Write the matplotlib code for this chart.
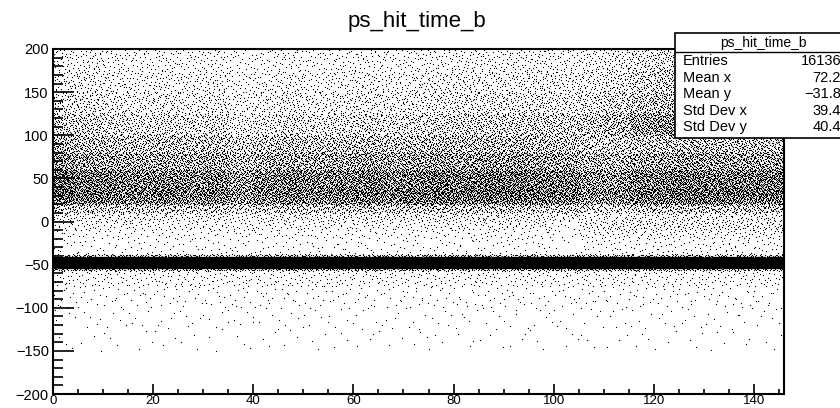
import numpy as np
import matplotlib
matplotlib.use("Agg")
import matplotlib.pyplot as plt
from matplotlib.patches import Rectangle
from matplotlib.ticker import MultipleLocator

plt.rcParams['font.family'] = ['Liberation Sans', 'DejaVu Sans']

# --- data (approximate dot density per pixel) ---
x_edges = [0, 5, 10, 15, 20, 25, 30, 35, 40, 45, 50, 55, 60, 65, 70, 75, 80, 85,
           90, 95, 100, 105, 110, 115, 120, 125, 130, 135, 140, 146]
y_edges = [-200, -150, -125, -100, -75, -57, -54, -41, -38, -20, -10, 0,
           10, 20, 30, 40, 60, 80, 100, 125, 150, 175, 200]
# density of each y band (same order as y_edges)
band_density = [0.0, 0.005, 0.009, 0.018, 0.05, 0.35, 3.5, 0.35, 0.022, 0.038, 0.065,
                0.12, 0.27, 0.58, 0.68, 0.60, 0.42, 0.30, 0.17, 0.11, 0.08, 0.06]
# which factor each band uses: 'n' none, 'l' low region, 'c' core, 'h' high
band_zone = ['n', 'n', 'n', 'n', 'n', 'n', 'n', 'n', 'l', 'l', 'l',
             'c', 'c', 'c', 'c', 'c', 'c', 'c', 'h', 'h', 'h', 'h']
core_scale = [1.0, 0.9, 0.85, 0.8, 0.85, 0.8, 0.85, 0.65, 0.8, 0.85, 0.8, 0.85, 0.9, 0.85,
              0.9, 0.95, 0.9, 0.95, 0.95, 0.9, 0.85, 0.7, 0.7, 0.85, 0.9, 0.95, 0.9, 0.9, 0.9]
high_scale = [1.2, 1.2, 1.0, 0.9, 1.0, 0.9, 1.0, 0.7, 0.8, 1.0, 0.8, 0.9, 1.0, 0.9,
              1.0, 1.1, 1.2, 1.2, 1.2, 1.3, 1.2, 1.4, 1.7, 2.2, 2.6, 2.6, 2.4, 2.4, 2.4]
low_scale = [1.0, 1.0, 1.0, 1.0, 1.0, 1.0, 1.0, 1.0, 1.0, 1.0, 1.0, 1.0, 1.0, 1.0,
             1.0, 1.1, 1.1, 1.2, 1.2, 1.2, 0.5, 1.6, 1.8, 1.8, 1.8, 1.8, 1.8, 1.8, 1.8]

stat_names = ['Entries', 'Mean x', 'Mean y', 'Std Dev x', 'Std Dev y']
stat_values = ['16136', '72.2', '\u221231.8', '39.4', '40.4']


def radical_inverse(i, base):
    f, r = 1.0, 0.0
    while i > 0:
        f /= base
        r += f * (i % base)
        i //= base
    return r


fig = plt.figure(figsize=(8.4, 4.08), dpi=100)
W, H = 840, 408
ax = fig.add_axes([53 / W, 1 - 394 / H, (784 - 53) / W, (394 - 49) / H])
ax.set_xlim(0, 146)
ax.set_ylim(-200, 200)

px_x = (784 - 53) / 146.0
px_y = (394 - 49) / 400.0

# scatter drawing like ROOT "scat": dots spread over each cell
xs, ys = [], []
k = 1
for i in range(len(x_edges) - 1):
    x0, x1 = x_edges[i], x_edges[i + 1]
    for j in range(len(y_edges) - 1):
        y0, y1 = y_edges[j], y_edges[j + 1]
        d = band_density[j]
        z = band_zone[j]
        if z == 'c':
            d *= core_scale[i]
        elif z == 'h':
            d *= high_scale[i]
        elif z == 'l':
            d *= low_scale[i]
        n = int(round(d * (x1 - x0) * px_x * (y1 - y0) * px_y))
        for m in range(n):
            xs.append(x0 + (x1 - x0) * radical_inverse(k, 2))
            ys.append(y0 + (y1 - y0) * radical_inverse(k, 3))
            k += 1

ax.plot(xs, ys, linestyle='none', marker='s', markersize=0.8, markeredgewidth=0,
        color='black', antialiased=False)

for s in ax.spines.values():
    s.set_linewidth(1.5)

ax.xaxis.set_major_locator(MultipleLocator(20))
ax.xaxis.set_minor_locator(MultipleLocator(5))
ax.yaxis.set_major_locator(MultipleLocator(50))
ax.yaxis.set_minor_locator(MultipleLocator(10))
ax.tick_params(axis='x', which='major', direction='in', length=7, width=1.2,
               labelsize=9.5, pad=0.5)
ax.tick_params(axis='x', which='minor', direction='in', length=3.6, width=1.2)
ax.tick_params(axis='y', which='major', direction='in', length=15, width=1.2,
               labelsize=10.5, pad=3)
ax.tick_params(axis='y', which='minor', direction='in', length=7.5, width=1.2)

fig.text(417 / W, 1 - 21 / H, 'ps_hit_time_b', ha='center', va='center', fontsize=16)

# stats box
box = Rectangle((675 / W, 1 - 138 / H), 300 / W, (138 - 33) / H, transform=fig.transFigure,
                facecolor='white', edgecolor='black', linewidth=1.2, zorder=5)
fig.patches.append(box)
fig.add_artist(plt.Line2D([675 / W, 1.2], [1 - 52 / H, 1 - 52 / H],
                          transform=fig.transFigure, color='black', linewidth=1.0, zorder=6))
fig.text(763 / W, 1 - 43 / H, 'ps_hit_time_b', ha='center', va='center', fontsize=10, zorder=7)
row_y = [61, 78, 94, 111, 127]
for name, val, yy in zip(stat_names, stat_values, row_y):
    fig.text(683 / W, 1 - yy / H, name, ha='left', va='center', fontsize=10.5, zorder=7)
    fig.text(841 / W, 1 - yy / H, val, ha='right', va='center', fontsize=10.5, zorder=7)

fig.savefig('out.png', dpi=100)
